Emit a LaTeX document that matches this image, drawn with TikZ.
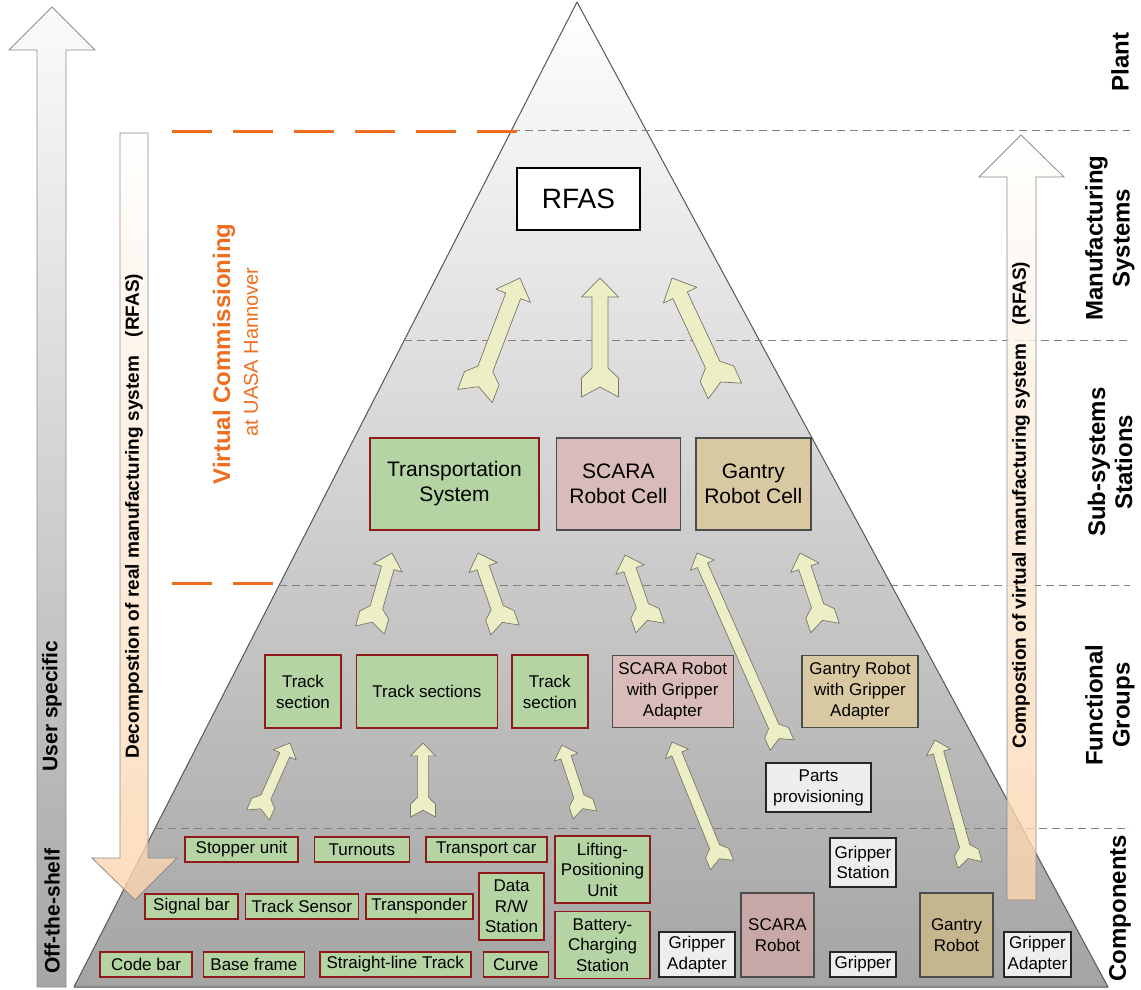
\documentclass[tikz,border=0pt]{standalone}
\usepackage{fontspec}
\setmainfont{Liberation Sans}
\usetikzlibrary{calc,positioning}

\definecolor{trackgreen}{HTML}{B4D4A4}
\definecolor{trackred}{HTML}{8E1A1A}
\definecolor{scarapink}{HTML}{D9BCBA}
\definecolor{scaradark}{HTML}{C8A8A7}
\definecolor{gantrytan}{HTML}{D9C9A2}
\definecolor{gantrydark}{HTML}{C6B68E}
\definecolor{partgrey}{HTML}{EEEEEE}
\definecolor{linkfill}{HTML}{EDEDC6}
\definecolor{linkedge}{HTML}{77776A}
\definecolor{vcorange}{HTML}{EF6D1E}
\definecolor{peach}{HTML}{FCD4AC}
\definecolor{pyrgrey}{HTML}{A4A4A4}

\newcommand\setfs[2]{\fontsize{#1}{#2}\selectfont}

% arrow with head at #2 and notched tail at #1, #3 = half width of head
\newcommand\linkarrow[3]{%
  \draw[linkshape] let \p1=($(#2)-(#1)$), \n1={atan2(\y1,\x1)} in
    (#2)
    -- ($(#2)+({\n1}:{-1.03*#3})+({\n1+90}:{#3})$)
    -- ($(#2)+({\n1}:{-1.03*#3})+({\n1+90}:{0.43*#3})$)
    -- ($(#1)+({\n1}:{1.57*#3})+({\n1+90}:{0.43*#3})$)
    -- ($(#1)+({\n1}:{1.03*#3})+({\n1+90}:{#3})$)
    -- ($(#1)+({\n1+90}:{#3})$)
    -- ($(#1)+({\n1}:{0.54*#3})$)
    -- ($(#1)+({\n1-90}:{#3})$)
    -- ($(#1)+({\n1}:{1.03*#3})+({\n1-90}:{#3})$)
    -- ($(#1)+({\n1}:{1.57*#3})+({\n1-90}:{0.43*#3})$)
    -- ($(#2)+({\n1}:{-1.03*#3})+({\n1-90}:{0.43*#3})$)
    -- ($(#2)+({\n1}:{-1.03*#3})+({\n1-90}:{#3})$)
    -- cycle;}

\begin{document}
\begin{tikzpicture}[x=1pt, y=1pt,
  every node/.style={inner sep=0pt, align=center},
  wh/.style 2 args={minimum width=#1pt, minimum height=#2pt},
  trackbox/.style={draw=trackred, fill=trackgreen, line width=1.4pt},
  scarabox/.style={draw=black!70, fill=scarapink, line width=1.4pt},
  gantrybox/.style={draw=black!70, fill=gantrytan, line width=1.4pt},
  greybox/.style={draw=black!85, fill=partgrey, line width=1.4pt},
  comp/.style={font=\setfs{17}{20.5}},
  fg/.style={font=\setfs{17}{21}},
  cell/.style={font=\setfs{21}{25}},
  lvllabel/.style={rotate=90, font=\bfseries\setfs{24}{27}},
  sidetext/.style={rotate=90, font=\bfseries\setfs{19}{22}},
  levelline/.style={draw=black!50, dash pattern=on 8pt off 5pt, line width=0.9pt},
  vcline/.style={draw=vcorange, line width=3pt, dash pattern=on 40pt off 21pt},
  linkshape/.style={draw=linkedge, fill=linkfill, line width=0.7pt, line join=round}]
\useasboundingbox (0,0) rectangle (1141,-989);

% pyramid
\fill[top color=white, bottom color=pyrgrey] (577,-2) -- (1108,-987) -- (74,-987) -- cycle;
\draw[black!65, line width=1pt, line join=round] (577,-2) -- (1108,-987) -- (74,-987) -- cycle;

% user specific / off-the-shelf arrow
\draw[gray!90, line width=0.8pt, top color=white!97!gray, bottom color=gray!70]
  (37,-987) -- (37,-50) -- (9,-50) -- (52,-7) -- (95,-50) -- (66,-50) -- (66,-987) -- cycle;

% levels
\draw[levelline] (512,-130) -- (1130,-130);
\draw[levelline] (404,-340) -- (1130,-340);
\draw[levelline] (279,-585) -- (1130,-585);
\draw[levelline] (155,-828) -- (1130,-828);
\draw[vcline] (172,-131) -- (520,-131);
\draw[vcline] (172,-583) -- (276,-583);

% decomposition and composition arrows
\draw[gray!90, line width=0.8pt, top color=white!98!peach, bottom color=peach, fill opacity=0.8]
  (120,-133) -- (148,-133) -- (148,-858) -- (177,-858) -- (135,-900) -- (92,-858) -- (120,-858) -- cycle;
\draw[gray!90, line width=0.8pt, top color=white!98!peach, bottom color=peach, fill opacity=0.8]
  (1007,-900) -- (1007,-177) -- (979,-177) -- (1021,-135) -- (1064,-177) -- (1036,-177) -- (1036,-900) -- cycle;

\node[rotate=90, font=\bfseries\setfs{21}{24}] (user) at (52,-706) {User specific};
\node[rotate=90, font=\bfseries\setfs{21}{24}] (shelf) at (52,-911) {Off-the-shelf};
\node[sidetext] (decomp) at (134,-516) {Decompostion of real manufacturing system\hspace{19pt}(RFAS)};
\node[sidetext] (compos) at (1021,-505) {Compostion of virtual manufacturing system\hspace{19pt}(RFAS)};
\node[rotate=90, text=vcorange, font=\bfseries\setfs{24}{28}] (vc) at (224,-354) {Virtual Commissioning};
\node[rotate=90, text=vcorange, font=\setfs{20}{24}] (uasa) at (251,-352) {at UASA Hannover};

% level names
\node[lvllabel] (plant) at (1120,-62) {Plant};
\node[lvllabel] (mfg) at (1110,-238) {Manufacturing\\Systems};
\node[lvllabel] (subsys) at (1110,-462) {Sub-systems\\Stations};
\node[lvllabel] (fgroups) at (1110,-705) {Functional\\Groups};
\node[lvllabel] (components) at (1120,-908) {Components};

% manufacturing system
\node[draw=black, fill=white, line width=2.2pt, wh={123}{62}, font=\setfs{28}{32}] (rfas) at (578.5,-199) {RFAS};

% sub-systems
\node[trackbox, wh={169}{92}, cell] (transport) at (454.5,-484) {Transportation\\System};
\node[scarabox, wh={124}{92}, cell, right=16pt of transport] (scaracell) {SCARA\\Robot Cell};
\node[gantrybox, wh={115}{92}, cell, right=14pt of scaracell] (gantrycell) {Gantry\\Robot Cell};

% functional groups
\node[trackbox, wh={76}{73}, fg] (ts1) at (303,-691.5) {Track\\section};
\node[trackbox, wh={141}{73}, fg, right=14pt of ts1] (ts2) {Track sections};
\node[trackbox, wh={76}{73}, fg, right=13pt of ts2] (ts3) {Track\\section};
\node[scarabox, wh={121}{72}, fg, right=23pt of ts3] (scarafg) {SCARA Robot\\with Gripper\\Adapter};
\node[gantrybox, wh={116}{72}, fg] (gantryfg) at (860,-691.5) {Gantry Robot\\with Gripper\\Adapter};
\node[greybox, wh={105}{49}, fg] (parts) at (818.5,-787.5) {Parts\\provisioning};

% components
\node[trackbox, wh={113}{25}, comp] (stopper) at (241.5,-849.5) {Stopper unit};
\node[trackbox, wh={95}{25}, comp, right=15pt of stopper] (turnouts) {Turnouts};
\node[trackbox, wh={121}{25}, comp, right=15pt of turnouts] (car) {Transport car};
\node[trackbox, wh={93}{25}, comp] (signal) at (191.5,-906.5) {Signal bar};
\node[trackbox, wh={113}{25}, comp, right=6pt of signal] (sensor) {Track Sensor};
\node[trackbox, wh={107}{25}, comp, right=6pt of sensor] (transponder) {Transponder};
\node[trackbox, wh={65}{67}, comp] (datarw) at (511.5,-906.5) {Data\\R/W\\Station};
\node[trackbox, wh={92}{25}, comp] (codebar) at (146,-964.5) {Code bar};
\node[trackbox, wh={101}{25}, comp, right=10pt of codebar] (baseframe) {Base frame};
\node[trackbox, wh={151}{25}, comp, right=14pt of baseframe] (straight) {Straight-line Track};
\node[trackbox, wh={65}{25}, comp, right=11pt of straight] (curve) {Curve};
\node[trackbox, wh={95}{67}, comp] (lifting) at (602.5,-869.5) {Lifting-\\Positioning\\Unit};
\node[trackbox, wh={95}{67}, comp, below=7pt of lifting] (battery) {Battery-\\Charging\\Station};
\node[greybox, wh={76}{45}, comp] (adapter1) at (697,-954.5) {Gripper\\Adapter};
\node[scarabox, fill=scaradark, wh={73}{84}, comp] (scararobot) at (777.5,-935) {SCARA\\Robot};
\node[greybox, wh={66}{49}, comp] (gstation) at (863,-862.5) {Gripper\\Station};
\node[greybox, wh={66}{25}, comp] (gripper) at (863,-964.5) {Gripper};
\node[gantrybox, fill=gantrydark, wh={73}{84}, comp] (gantryrobot) at (956.5,-935) {Gantry\\Robot};
\node[greybox, wh={67}{45}, comp] (adapter2) at (1037.5,-954.5) {Gripper\\Adapter};

% links to manufacturing system
\linkarrow{475,-396}{520,-278}{18.5}
\linkarrow{600,-397}{600,-278}{18.5}
\linkarrow{725,-391}{672,-278}{18.5}
% links to sub-systems
\linkarrow{370,-630}{392,-553}{15}
\linkarrow{505,-630}{478,-553}{15}
\linkarrow{650,-628}{625,-555}{15}
\linkarrow{782,-745}{697,-553}{13}
\linkarrow{825,-628}{800,-553}{15}
% links to functional groups
\linkarrow{258,-815}{290,-743}{12.5}
\linkarrow{423,-817}{423,-743}{12.5}
\linkarrow{585,-815}{562,-745}{12.5}
\linkarrow{722,-865}{672,-742}{12.5}
\linkarrow{970,-865}{935,-740}{12.5}
\end{tikzpicture}
\end{document}
